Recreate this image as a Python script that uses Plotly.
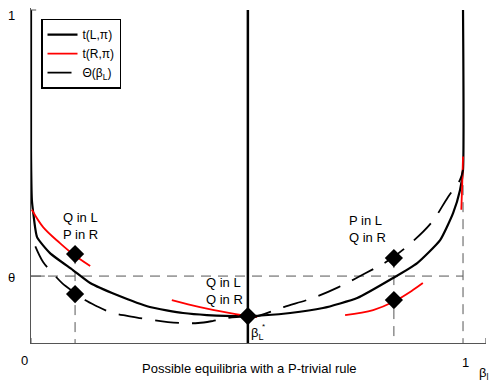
import plotly.graph_objects as go

# ---- data ----
tL_x = [0, 0, 0.002, 0.005, 0.014, 0.044, 0.097, 0.137, 0.199, 0.275, 0.352, 0.407, 0.502,
        0.600, 0.676, 0.755, 0.838, 0.894, 0.947, 0.977, 0.993, 1.0, 1.0]
tL_y = [1.0, 0.58, 0.43, 0.393, 0.318, 0.270, 0.219, 0.180, 0.144, 0.108, 0.090, 0.084, 0.081,
        0.090, 0.105, 0.135, 0.195, 0.240, 0.309, 0.390, 0.459, 0.52, 1.0]

tR_left_x = [0.002, 0.028, 0.067, 0.100, 0.137]
tR_left_y = [0.400, 0.348, 0.300, 0.264, 0.231]
tR_mid_x = [0.326, 0.391, 0.461, 0.502, 0.523]
tR_mid_y = [0.129, 0.108, 0.090, 0.081, 0.078]
tR_right_x = [0.727, 0.792, 0.838, 0.884, 0.907]
tR_right_y = [0.084, 0.099, 0.123, 0.159, 0.180]
tR_top_x = [0.996, 0.998, 1.0]
tR_top_y = [0.40, 0.47, 0.56]

th_left_x = [0.010, 0.028, 0.05, 0.072, 0.10, 0.125, 0.15, 0.183, 0.22, 0.252, 0.317, 0.35, 0.387, 0.42, 0.454, 0.502]
th_left_y = [0.290, 0.243, 0.21, 0.180, 0.152, 0.129, 0.112, 0.093, 0.082, 0.075, 0.063, 0.060, 0.060, 0.066, 0.075, 0.081]
th_right_x = [0.502, 0.515, 0.585, 0.652, 0.712, 0.775, 0.83, 0.882, 0.928, 0.965, 0.993, 1.0]
th_right_y = [0.081, 0.078, 0.108, 0.135, 0.168, 0.21, 0.25, 0.303, 0.363, 0.438, 0.49, 0.52]

theta = 0.201
beta_star = 0.502
diam_x = [0.102, 0.102, 0.502, 0.840, 0.840]
diam_y = [0.267, 0.147, 0.081, 0.255, 0.129]

FONT = "Liberation Sans, Arial, sans-serif"
fig = go.Figure()

gray = "#555555"
fig.add_trace(go.Scatter(x=[0, 1], y=[theta, theta], mode="lines",
                         line=dict(color=gray, width=1, dash="10px,7px"), showlegend=False, hoverinfo="skip"))
for xv, yv in [(diam_x[0], diam_y[0]), (diam_x[3], diam_y[3]), (1.0, 0.474)]:
    fig.add_trace(go.Scatter(x=[xv, xv], y=[yv, 0], mode="lines",
                             line=dict(color=gray, width=1, dash="10px,7px"), showlegend=False, hoverinfo="skip"))

fig.add_trace(go.Scatter(x=[beta_star, beta_star], y=[1.0, 0], mode="lines",
                         line=dict(color="black", width=2.5), showlegend=False, hoverinfo="skip", cliponaxis=False))

fig.add_trace(go.Scatter(x=tL_x, y=tL_y, mode="lines", name="t(L,π)",
                         line=dict(color="black", width=2.2, shape="spline", smoothing=0.5), cliponaxis=False))
fig.add_trace(go.Scatter(x=tR_left_x, y=tR_left_y, mode="lines", name="t(R,π)", legendgroup="r",
                         line=dict(color="red", width=1.8, shape="spline"), cliponaxis=False))
for xs, ys in [(tR_mid_x, tR_mid_y), (tR_right_x, tR_right_y), (tR_top_x, tR_top_y)]:
    fig.add_trace(go.Scatter(x=xs, y=ys, mode="lines", legendgroup="r", showlegend=False,
                             line=dict(color="red", width=1.8, shape="spline"), cliponaxis=False))
fig.add_trace(go.Scatter(x=th_left_x, y=th_left_y, mode="lines", name="Θ(β<sub>L</sub>)", legendgroup="t",
                         line=dict(color="black", width=1.8, dash="24px,13px", shape="spline")))
fig.add_trace(go.Scatter(x=th_right_x, y=th_right_y, mode="lines", legendgroup="t", showlegend=False,
                         line=dict(color="black", width=1.8, dash="24px,13px", shape="spline"), cliponaxis=False))

fig.add_trace(go.Scatter(x=diam_x, y=diam_y, mode="markers", showlegend=False,
                         marker=dict(symbol="diamond", size=14, color="black"), cliponaxis=False))

def ann(x, y, text, size=13, xanchor="center", align="center", ref="data"):
    r = ("x", "y") if ref == "data" else ("paper", "paper")
    fig.add_annotation(x=x, y=y, xref=r[0], yref=r[1], text=text, showarrow=False,
                       font=dict(family=FONT, size=size, color="black"),
                       xanchor=xanchor, yanchor="middle", align=align)

ann(0.070, 0.351, "Q in L<br>P in R", xanchor="left", align="left")
ann(0.400, 0.156, "Q in L<br>Q in R", xanchor="left", align="left")
ann(0.732, 0.342, "P in L<br>Q in R", xanchor="left", align="left")
ann(0.505, 0.030, "β<sub>L</sub>", size=13, xanchor="left")
ann(0.530, 0.050, "*", size=8, xanchor="left")

ann(-0.042, 0.979, "1", ref="paper")
ann(-0.042, 0.197, "θ", ref="paper")
ann(-0.015, -0.051, "0", ref="paper")
ann(0.954, -0.057, "1", ref="paper")
ann(0.980, -0.090, "β<sub>l</sub>", size=13, ref="paper", xanchor="left")
ann(0.481, -0.075, "Possible equilibria with a P-trivial rule", ref="paper")

for x0, y0, x1, y1 in [(0, 1.0, 0.012, 1.0), (0, 0, 0, 0.015), (1.053, 0, 1.053, 0.015), (0, theta, 0.032, theta)]:
    fig.add_shape(type="line", xref="x", yref="y", x0=x0, y0=y0, x1=x1, y1=y1,
                  line=dict(color=gray, width=1))

fig.update_layout(
    width=489, height=373,
    margin=dict(l=23, r=11, t=0, b=38),
    paper_bgcolor="white", plot_bgcolor="white",
    font=dict(family=FONT, size=11, color="black"),
    showlegend=True,
    legend=dict(x=0.022, y=0.968, xanchor="left", yanchor="top",
                bordercolor="black", borderwidth=1.5, bgcolor="white",
                font=dict(family=FONT, size=12), tracegroupgap=0,
                itemwidth=30),
    xaxis=dict(range=[0, 1.0532], showgrid=False, zeroline=False, showticklabels=False,
               ticks="", showline=True, linecolor=gray, linewidth=1, fixedrange=True),
    yaxis=dict(range=[0, 1.006], showgrid=False, zeroline=False, showticklabels=False,
               ticks="", showline=True, linecolor=gray, linewidth=1, fixedrange=True),
)

fig.write_html("out.html")
